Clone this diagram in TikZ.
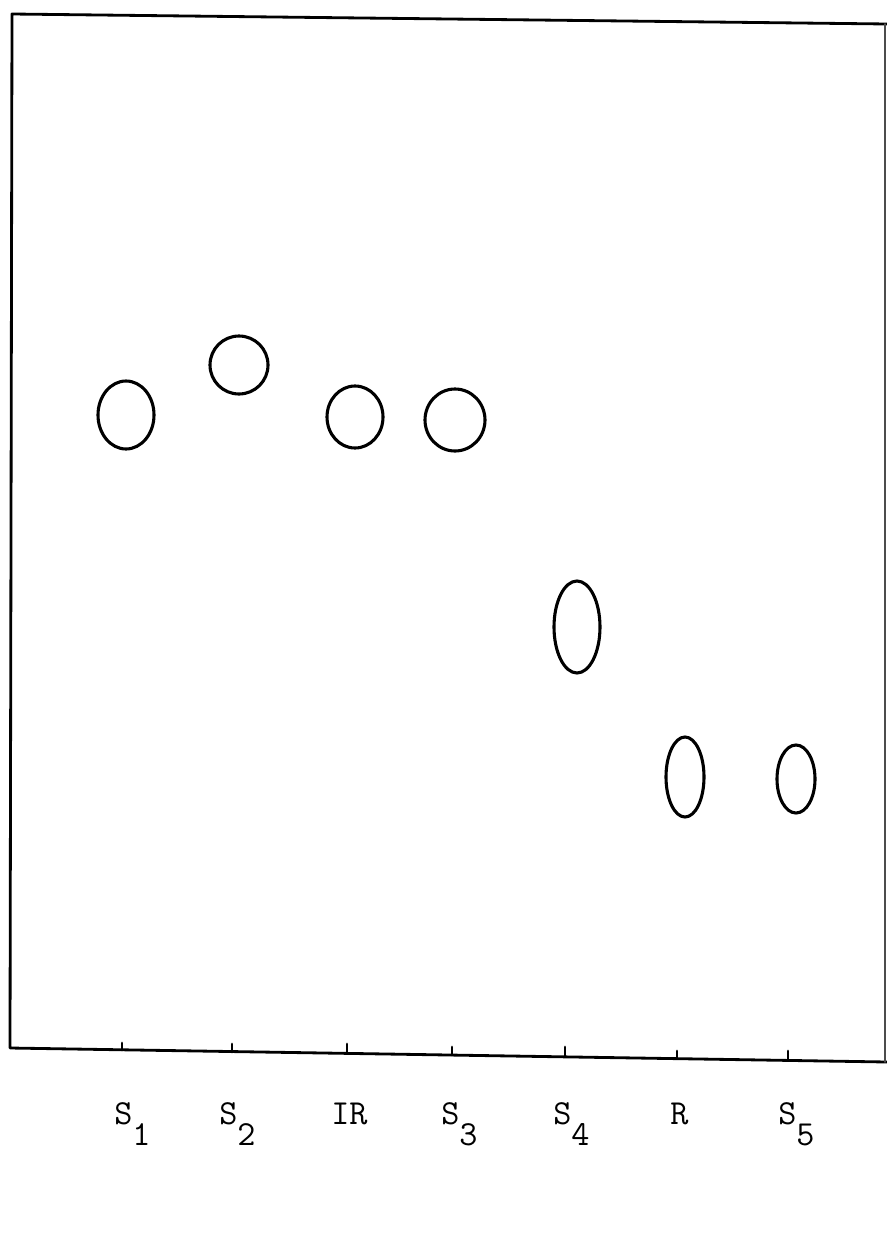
\documentclass[tikz,border=0pt]{standalone}
\usepackage{tikz}
\newcommand{\tsub}[1]{\raisebox{-0.6em}{#1}}
\begin{document}
\begin{tikzpicture}[line cap=round,line join=round,x=0.025cm,y=-0.025cm]
			\useasboundingbox (0,0) rectangle (887,1236);
			\tikzset{frame/.style={line width=2pt},spot/.style={line width=2.2pt},
			tick/.style={line width=2pt},lab/.style={anchor=base west,inner sep=0pt,font=\fontsize{25}{30}\ttfamily}}
			% corners of the plate
			\coordinate (tl) at (12,14);
			\coordinate (tr) at (887,24);
			\coordinate (bl) at (10,1048);
			\coordinate (br) at (887,1062);
			\draw [frame] (tr)-- (tl)-- (bl)-- (br);
			\draw [line width=1.3pt,black!70] (885,24)-- (885,1062);
			% origin marks on the base line
			\coordinate (t1) at (122,1050);
			\coordinate (t2) at (232,1052);
			\coordinate (t3) at (347,1053);
			\coordinate (t4) at (452,1055);
			\coordinate (t5) at (565,1056);
			\coordinate (t6) at (677,1058);
			\coordinate (t7) at (788,1059);
			\draw [tick] (t1)-- ++(0,-7);
			\draw [tick] (t2)-- ++(0,-8);
			\draw [tick] (t3)-- ++(0,-9);
			\draw [tick] (t4)-- ++(0,-8);
			\draw [tick] (t5)-- ++(0,-9);
			\draw [tick] (t6)-- ++(0,-7);
			\draw [tick] (t7)-- ++(0,-8);
			% spots
			\draw [spot] (126,415) ellipse (28 and 34);
			\draw [spot] (239,365) ellipse (29 and 29);
			\draw [spot] (355,417) ellipse (28 and 31);
			\draw [spot] (455,420) ellipse (30 and 31);
			\draw [spot] (577,627) ellipse (23 and 46);
			\draw [spot] (685,777) ellipse (19 and 40);
			\draw [spot] (796,779) ellipse (19 and 34);
			% lanes
			\node[lab] (l1) at (114,1124) {S\tsub{1}};
			\node[lab] (l2) at (219,1124) {S\tsub{2}};
			\node[lab] (l3) at (331,1124) {IR};
			\node[lab] (l4) at (441,1124) {S\tsub{3}};
			\node[lab] (l5) at (553,1124) {S\tsub{4}};
			\node[lab] (l6) at (670,1124) {R};
			\node[lab] (l7) at (778,1124) {S\tsub{5}};
\end{tikzpicture}
\end{document}
